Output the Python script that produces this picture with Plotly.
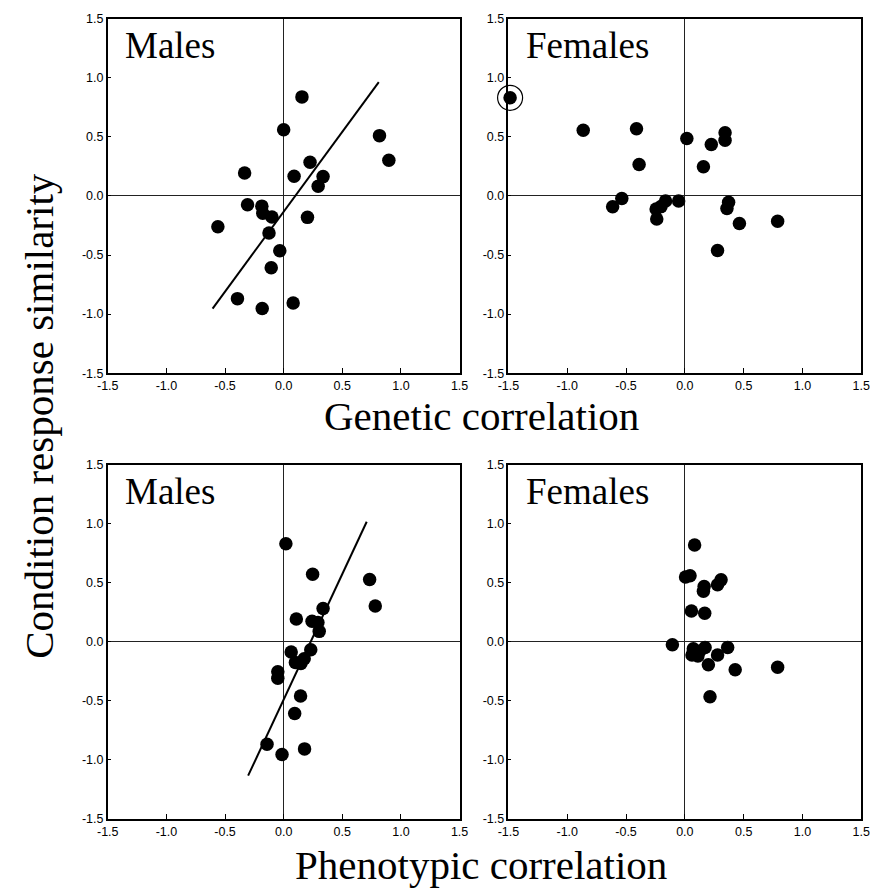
import plotly.graph_objects as go

# ---------------- data ----------------
males_gen_x = [0.156, 0.0, 0.817, 0.897, 0.225, -0.333, 0.089, 0.336, 0.294, -0.308, -0.186,
               -0.178, -0.100, 0.203, -0.561, -0.125, -0.033, -0.106, -0.394, 0.081, -0.183]
males_gen_y = [0.839, 0.561, 0.511, 0.303, 0.286, 0.194, 0.167, 0.164, 0.083, -0.075, -0.086,
               -0.147, -0.178, -0.181, -0.261, -0.314, -0.464, -0.608, -0.869, -0.906, -0.953]
males_gen_fit_x = [-0.606, 0.811]
males_gen_fit_y = [-0.953, 0.964]

females_gen_x = [-1.486, -0.864, -0.411, 0.017, 0.342, 0.342, 0.225, -0.389, 0.158, -0.536, -0.614,
                 -0.164, -0.053, -0.244, -0.203, -0.239, 0.372, 0.358, 0.464, 0.789, 0.278]
females_gen_y = [0.831, 0.556, 0.569, 0.486, 0.536, 0.472, 0.436, 0.267, 0.247, -0.022, -0.092,
                 -0.042, -0.042, -0.111, -0.090, -0.194, -0.053, -0.106, -0.233, -0.214, -0.461]
outlier_x = [-1.486]
outlier_y = [0.831]

males_phen_x = [0.019, 0.247, 0.733, 0.781, 0.336, 0.108, 0.242, 0.292, 0.303, 0.064, 0.231,
                0.100, 0.175, 0.147, -0.050, -0.050, 0.144, 0.094, -0.142, 0.178, -0.014]
males_phen_y = [0.831, 0.572, 0.528, 0.303, 0.283, 0.194, 0.175, 0.164, 0.089, -0.086, -0.067,
                -0.175, -0.142, -0.183, -0.253, -0.308, -0.458, -0.606, -0.867, -0.906, -0.953]
males_phen_fit_x = [-0.303, 0.708]
males_phen_fit_y = [-1.133, 1.017]

females_phen_x = [0.083, 0.006, 0.044, 0.164, 0.158, 0.308, 0.278, 0.056, 0.169, -0.106, 0.072,
                  0.172, 0.364, 0.061, 0.111, 0.278, 0.200, 0.428, 0.789, 0.214, 0.125]
females_phen_y = [0.821, 0.549, 0.559, 0.469, 0.428, 0.525, 0.483, 0.261, 0.242, -0.025, -0.058,
                  -0.047, -0.047, -0.111, -0.119, -0.111, -0.194, -0.236, -0.214, -0.464, -0.080]

tick_vals = [-1.5, -1.0, -0.5, 0.0, 0.5, 1.0, 1.5]
tick_text = ["-1.5", "-1.0", "-0.5", "0.0", "0.5", "1.0", "1.5"]
panel_titles = ["Males", "Females", "Males", "Females"]
x_titles = ["Genetic correlation", "Phenotypic correlation"]
y_title = "Condition response similarity"

# ---------------- layout geometry ----------------
W, H = 881, 892
col_px = [(99, 459), (509, 870)]
row_px = [(12, 372), (465, 825)]

fig = go.Figure()

def dom_x(c):
    a, b = col_px[c]
    return [a / W, b / W]

def dom_y(r):
    t, b = row_px[r]
    return [(H - b) / H, (H - t) / H]

marker = dict(color="black", size=13.5)
panels = [
    (0, 0, males_gen_x, males_gen_y, (males_gen_fit_x, males_gen_fit_y)),
    (0, 1, females_gen_x, females_gen_y, None),
    (1, 0, males_phen_x, males_phen_y, (males_phen_fit_x, males_phen_fit_y)),
    (1, 1, females_phen_x, females_phen_y, None),
]

tick_font = dict(family="Liberation Sans", size=12.5, color="black")
serif = "Liberation Serif"

for i, (r, c, xs, ys, fit) in enumerate(panels):
    n = i + 1
    xa = "x" if n == 1 else f"x{n}"
    ya = "y" if n == 1 else f"y{n}"
    if fit is not None:
        fig.add_trace(go.Scatter(x=fit[0], y=fit[1], mode="lines",
                                 line=dict(color="black", width=2),
                                 xaxis=xa, yaxis=ya, showlegend=False, hoverinfo="skip"))
    fig.add_trace(go.Scatter(x=xs, y=ys, mode="markers", marker=marker,
                             xaxis=xa, yaxis=ya, showlegend=False, cliponaxis=False))
    if n == 2:
        fig.add_trace(go.Scatter(x=outlier_x, y=outlier_y, mode="markers",
                                 marker=dict(symbol="circle-open", size=25,
                                             color="black", line=dict(width=1.2)),
                                 xaxis=xa, yaxis=ya, showlegend=False, cliponaxis=False))
    axis_common = dict(range=[-1.5, 1.5], tickvals=tick_vals, ticktext=tick_text,
                       showgrid=False, zeroline=True, zerolinecolor="#222", zerolinewidth=1,
                       showline=True, linecolor="black", linewidth=1.5, mirror=True,
                       ticks="inside", tickcolor="black", tickfont=tick_font)
    xkey = "xaxis" if n == 1 else f"xaxis{n}"
    ykey = "yaxis" if n == 1 else f"yaxis{n}"
    fig.layout[xkey] = dict(domain=dom_x(c), anchor=ya, ticklen=5, tickwidth=1, **axis_common)
    fig.layout[ykey] = dict(domain=dom_y(r), anchor=xa, ticklen=3, tickwidth=1, **axis_common)
    fig.add_annotation(text=panel_titles[i], xref=f"{xa} domain", yref=f"{ya} domain",
                       x=0.044, y=0.925, xanchor="left", yanchor="middle", showarrow=False,
                       font=dict(family=serif, size=37, color="black"))

# axis titles
fig.add_annotation(text=x_titles[0], xref="paper", yref="paper", x=481 / W, y=1 - 416 / H,
                   xanchor="center", yanchor="middle", showarrow=False,
                   font=dict(family=serif, size=41, color="black"))
fig.add_annotation(text=x_titles[1], xref="paper", yref="paper", x=481 / W, y=1 - 872 / H,
                   xanchor="center", yanchor="middle", showarrow=False,
                   font=dict(family=serif, size=41, color="black"))
fig.add_annotation(text=y_title, xref="paper", yref="paper", x=29 / W, y=1 - 415 / H,
                   xanchor="center", yanchor="middle", showarrow=False, textangle=-90,
                   font=dict(family=serif, size=41, color="black"))

fig.update_layout(width=W, height=H, margin=dict(l=0, r=0, t=0, b=0),
                  paper_bgcolor="white", plot_bgcolor="white", showlegend=False)

fig.write_html("out.html")
